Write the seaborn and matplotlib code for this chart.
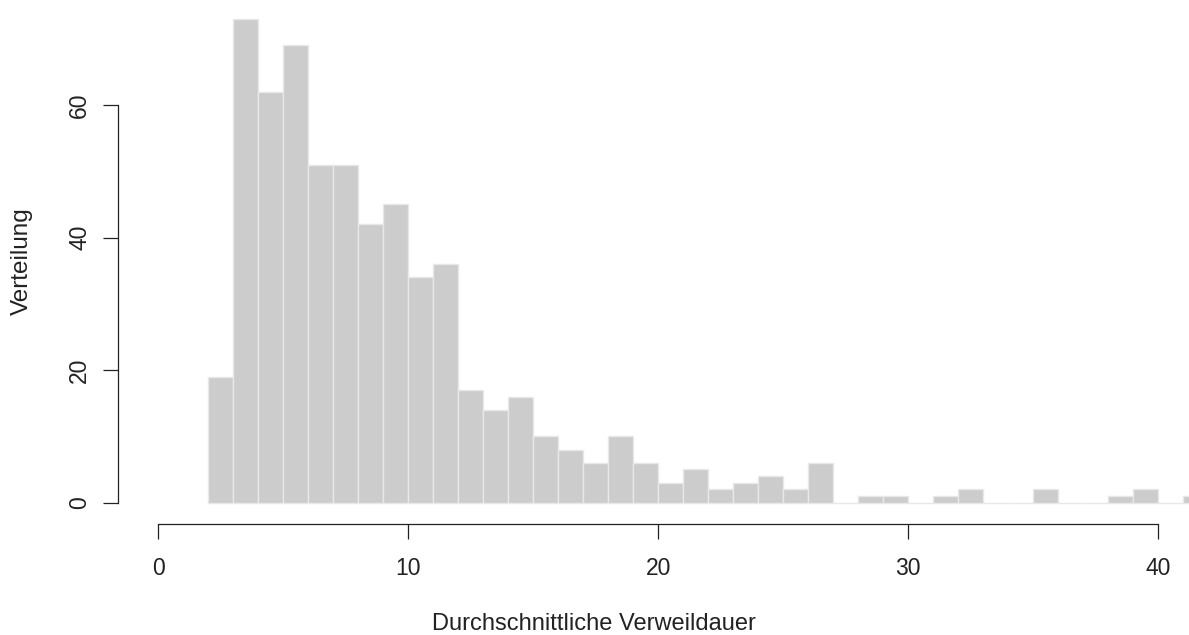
import matplotlib
matplotlib.use("Agg")
import matplotlib.pyplot as plt
import seaborn as sns
import numpy as np

# Histogram data (bin width 1, starting at 2)
bin_left = [2, 3, 4, 5, 6, 7, 8, 9, 10, 11, 12, 13, 14, 15, 16, 17, 18, 19, 20, 21,
            22, 23, 24, 25, 26, 27, 28, 29, 30, 31, 32, 33, 34, 35, 36, 37, 38, 39, 40, 41]
counts = [19, 73, 62, 69, 51, 51, 42, 45, 34, 36, 17, 14, 16, 10, 8, 6, 10, 6, 3, 5,
          2, 3, 4, 2, 6, 0, 1, 1, 0, 1, 2, 0, 0, 2, 0, 0, 1, 2, 0, 1]
x_ticks = [0, 10, 20, 30, 40]
y_ticks = [0, 20, 40, 60]
x_label = "Durchschnittliche Verweildauer"
y_label = "Verteilung"

sns.set_style("white")
plt.rcParams["font.family"] = ["Liberation Sans", "DejaVu Sans"]

W, H = 1189, 635
fig = plt.figure(figsize=(W / 100, H / 100), dpi=100)
ax_left_px, ax_bottom_px = 117.7, 524
ax = fig.add_axes([ax_left_px / W, (H - ax_bottom_px) / H,
                   (W - ax_left_px) / W, ax_bottom_px / H])

edges = list(bin_left) + [bin_left[-1] + 1]
sns.histplot(x=bin_left, weights=counts, bins=edges, ax=ax,
             color="#CCCCCC", edgecolor="#E8E8E8", linewidth=1.0, alpha=1.0)

ax.set_xlim(-1.624, 41.228)
ax.set_ylim(-3.245, 75.85)

for s in ["top", "right"]:
    ax.spines[s].set_visible(False)
for s in ["left", "bottom"]:
    ax.spines[s].set_color("#222222")
    ax.spines[s].set_linewidth(0.9)
ax.spines["left"].set_bounds(y_ticks[0], y_ticks[-1])
ax.spines["bottom"].set_bounds(x_ticks[0], x_ticks[-1])

ax.set_xticks(x_ticks)
ax.set_yticks(y_ticks)
ax.set_xticklabels([str(v) for v in x_ticks])
ax.set_yticklabels([str(v) for v in y_ticks], rotation=90, va="center")
ax.tick_params(axis="both", which="major", bottom=True, left=True,
               direction="out", length=11, width=0.9,
               color="#222222", labelsize=16.5, labelcolor="#222222")
ax.tick_params(axis="x", pad=13)
ax.tick_params(axis="y", pad=8)
ax.set_xlabel("")
ax.set_ylabel("")
ax.grid(False)

fig.text(594 / W, 1 - 624 / H, x_label, ha="center", va="center",
         fontsize=17, color="#222222")
fig.text(22 / W, 1 - 261 / H, y_label, ha="center", va="center",
         rotation=90, fontsize=17.5, color="#222222")

fig.savefig("out.png", dpi=100, facecolor="white")
